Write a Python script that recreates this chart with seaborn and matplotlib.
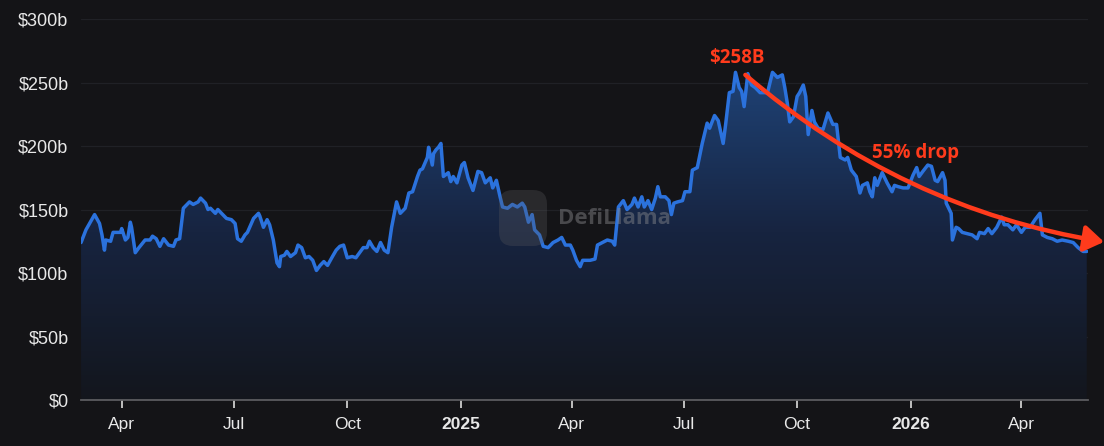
import numpy as np
import pandas as pd
import matplotlib
matplotlib.use("Agg")
import matplotlib.pyplot as plt
import matplotlib.dates as mdates
from matplotlib.colors import LinearSegmentedColormap
from matplotlib.patches import FancyBboxPatch
from matplotlib.transforms import IdentityTransform
import seaborn as sns

# ---- data ($ billions) ----
START = "2024-02-28"
day_offset = [0, 4, 11, 15, 17, 19, 20, 24, 26, 32, 33, 36, 38, 40, 41, 44, 47, 52, 56, 58,
              61, 64, 67, 71, 75, 77, 80, 83, 85, 88, 91, 95, 97, 101, 103, 105, 109, 111, 115, 118,
              122, 125, 127, 130, 133, 135, 140, 144, 145, 148, 151, 153, 156, 159, 161, 162, 165, 167, 170, 174,
              176, 179, 182, 185, 188, 191, 194, 197, 200, 204, 207, 210, 213, 216, 220, 223, 226, 229, 232, 234,
              237, 240, 243, 246, 249, 252, 256, 259, 263, 266, 269, 273, 275, 277, 281, 282, 285, 286, 288, 290,
              292, 294, 298, 300, 302, 305, 309, 311, 314, 318, 322, 325, 328, 332, 334, 337, 340, 342, 346, 350,
              354, 358, 360, 363, 366, 368, 372, 375, 379, 383, 387, 390, 393, 397, 399, 402, 405, 407, 413, 417,
              419, 423, 427, 431, 433, 436, 440, 443, 447, 449, 452, 455, 457, 460, 463, 466, 468, 470, 474, 477,
              479, 481, 484, 488, 490, 494, 496, 500, 504, 508, 510, 514, 517, 521, 523, 526, 529, 531, 534, 536,
              538, 541, 544, 547, 551, 557, 561, 565, 569, 571, 573, 575, 578, 581, 583, 586, 588, 590, 593, 595,
              598, 602, 606, 610, 613, 616, 620, 622, 625, 629, 632, 634, 638, 640, 642, 644, 646, 650, 654, 658,
              660, 663, 667, 671, 675, 678, 680, 683, 687, 690, 693, 695, 699, 701, 702, 706, 707, 710, 712, 715,
              719, 723, 727, 729, 733, 736, 739, 743, 747, 749, 752, 756, 759, 763, 766, 770, 774, 778, 780, 784,
              788, 792, 796, 801, 805, 809, 813, 816]
tvl_b = [124, 134, 146, 139, 130, 118, 126, 125, 132, 132, 135, 126, 128, 140, 136, 116, 120, 126, 126, 129,
         127, 121, 127, 122, 121, 126, 127, 151, 153, 156, 154, 156, 159, 155, 150, 151, 147, 150, 146, 143,
         142, 139, 127, 125, 130, 132, 143, 147, 145, 136, 142, 138, 126, 108, 105, 113, 114, 117, 113, 116,
         122, 120, 112, 113, 110, 102, 106, 109, 106, 113, 118, 121, 122, 112, 113, 112, 116, 120, 120, 125,
         120, 117, 124, 118, 116, 136, 156, 147, 151, 163, 164, 176, 181, 182, 191, 199, 185, 194, 197, 199,
         202, 176, 179, 172, 176, 171, 185, 187, 175, 165, 180, 179, 171, 175, 167, 173, 160, 152, 151, 154,
         152, 155, 152, 140, 146, 134, 130, 121, 120, 124, 126, 128, 122, 122, 118, 110, 105, 110, 110, 111,
         122, 124, 126, 125, 122, 152, 157, 150, 154, 159, 152, 160, 152, 157, 150, 159, 168, 160, 160, 157,
         146, 155, 156, 157, 164, 164, 181, 183, 202, 218, 214, 224, 220, 202, 217, 242, 243, 258, 246, 243,
         231, 257, 248, 246, 242, 242, 258, 254, 256, 246, 234, 219, 223, 239, 242, 248, 239, 209, 228, 219,
         214, 213, 226, 217, 217, 191, 189, 191, 181, 176, 163, 169, 171, 164, 160, 175, 169, 179, 171, 164,
         169, 168, 167, 167, 177, 183, 176, 180, 185, 184, 173, 172, 179, 173, 155, 147, 126, 136, 135, 132,
         131, 130, 127, 132, 131, 135, 131, 136, 144, 138, 138, 134, 138, 132, 136, 136, 142, 147, 130, 128,
         127, 125, 126, 125, 124, 120, 117, 117]

tick_dates = ["2024-04-01", "2024-07-01", "2024-10-01", "2025-01-01", "2025-04-01",
              "2025-07-01", "2025-10-01", "2026-01-01", "2026-04-01"]
tick_labels = ["Apr", "Jul", "Oct", "2025", "Apr", "Jul", "Oct", "2026", "Apr"]
y_ticks = [0, 50, 100, 150, 200, 250, 300]
y_labels = ["$0", "$50b", "$100b", "$150b", "$200b", "$250b", "$300b"]

peak_label = "$258B"
drop_label = "55% drop"

BG = "#141417"
LINE = "#2b72dd"
RED = "#ff3b1c"

df = pd.DataFrame({
    "date": pd.to_datetime(START) + pd.to_timedelta(day_offset, unit="D"),
    "tvl": tvl_b,
})
start = pd.to_datetime(START)

sns.set_theme(style="dark")
plt.rcParams["font.family"] = ["Liberation Sans", "DejaVu Sans"]

fig = plt.figure(figsize=(11.04, 4.46), dpi=100, facecolor=BG)
ax = fig.add_axes([0.0734, 0.1031, 0.9121, 0.8543])
ax.set_facecolor(BG)

# gradient area under the curve
poly = ax.fill_between(df["date"], df["tvl"], 0, color="none", lw=0)
xs = mdates.date2num(df["date"])
cmap = LinearSegmentedColormap.from_list("fade", ["#13161d", "#172440", "#1f4479"])
grad = np.linspace(0, 1, 256).reshape(-1, 1)
img = ax.imshow(grad, aspect="auto", cmap=cmap, origin="lower",
                extent=[xs.min(), xs.max(), 0, 265], zorder=1)
img.set_clip_path(poly.get_paths()[0], transform=ax.transData)

sns.lineplot(data=df, x="date", y="tvl", color=LINE, linewidth=2.5, ax=ax, zorder=3)

ax.set_xlim(start, start + pd.Timedelta(days=817))
ax.set_ylim(0, 300)

ax.set_yticks(y_ticks)
ax.set_yticklabels(y_labels)
ax.set_xticks(pd.to_datetime(tick_dates))
ax.set_xticklabels(tick_labels)
for lab in ax.get_xticklabels():
    if lab.get_text().startswith("20"):
        lab.set_fontweight("bold")

ax.set_xlabel("")
ax.set_ylabel("")
ax.grid(False)
ax.yaxis.grid(True, color="#202126", linewidth=0.9)
ax.set_axisbelow(True)
for s in ["top", "right", "left"]:
    ax.spines[s].set_visible(False)
ax.spines["bottom"].set_color("#5c5c60")
ax.spines["bottom"].set_linewidth(1.3)
ax.tick_params(axis="x", colors="#dddddd", labelcolor="#e8e8e8", length=6, width=1.2,
               labelsize=12.5, pad=6, direction="out", bottom=True)
ax.tick_params(axis="y", labelcolor="#e8e8e8", length=0, labelsize=13, pad=9)

# watermark
fig.patches.append(FancyBboxPatch((499, 200), 48, 56, boxstyle="round,pad=0,rounding_size=14",
                                  transform=IdentityTransform(), facecolor="#5a5a5e",
                                  edgecolor="none", alpha=0.3, zorder=5))
ax.text(start + pd.Timedelta(days=433), 143, "DefiLlama", fontsize=16, fontweight="bold",
        color="#8a8a8e", alpha=0.45, ha="center", va="center", zorder=5,
        family=["Open Sans", "DejaVu Sans"])

# annotation
ax.annotate("", xy=(start + pd.Timedelta(days=830), 124.5),
            xytext=(start + pd.Timedelta(days=539), 256),
            arrowprops=dict(arrowstyle="-|>,head_length=0.6,head_width=0.4", color=RED, lw=3.2,
                            mutation_scale=20, shrinkA=0, shrinkB=0,
                            connectionstyle="arc3,rad=0.14"),
            annotation_clip=False, zorder=6)
ax.text(start + pd.Timedelta(days=532), 269, peak_label, color=RED, fontsize=13.5,
        fontweight="bold", ha="center", va="center", zorder=6, family=["Open Sans", "DejaVu Sans"])
ax.text(start + pd.Timedelta(days=677), 194.5, drop_label, color=RED, fontsize=13.5,
        fontweight="bold", ha="center", va="center", zorder=6, family=["Open Sans", "DejaVu Sans"])

fig.savefig("out.png", dpi=100, facecolor=BG)
